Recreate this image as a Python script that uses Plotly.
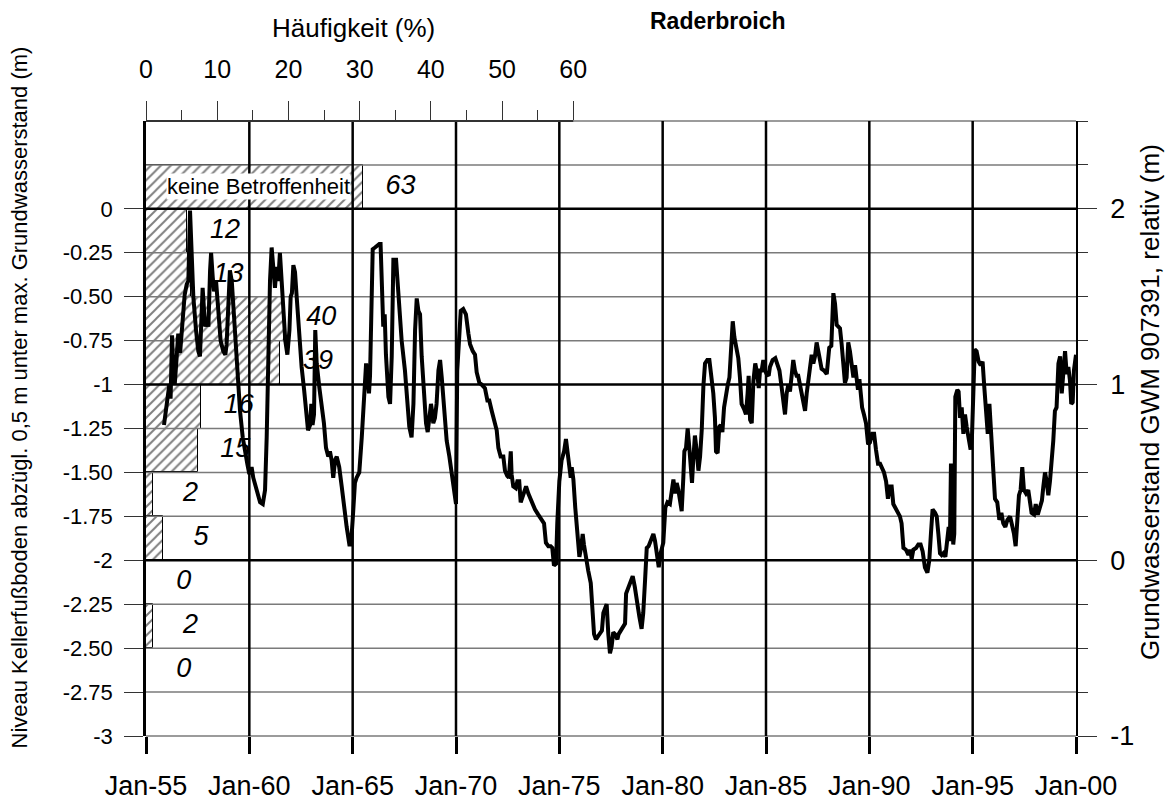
import plotly.graph_objects as go

# ---------------- data ----------------
# Frequency histogram: classes of cellar-floor level (upper edge of each 0.25 m class)
class_upper = [0.25, 0.0, -0.25, -0.5, -0.75, -1.0, -1.25, -1.5, -1.75, -2.0, -2.25, -2.5]
class_counts = [63, 12, 13, 40, 39, 16, 15, 2, 5, 0, 2, 0]
class_height = 0.25
top_class_label = "keine Betroffenheit"

# Groundwater level time series (decimal year, level in m on the left scale)
years = [
    1955.87, 1956.00, 1956.13, 1956.19, 1956.26, 1956.32, 1956.39, 1956.48, 1956.56, 1956.65,
    1956.73, 1956.81, 1956.87, 1956.97, 1957.05, 1957.13, 1957.21, 1957.29, 1957.42, 1957.53,
    1957.61, 1957.69, 1957.74, 1957.81, 1957.87, 1957.94, 1958.02, 1958.10, 1958.15, 1958.23,
    1958.29, 1958.39, 1958.50, 1958.61, 1958.74, 1958.84, 1958.90, 1958.98, 1959.06, 1959.15,
    1959.23, 1959.31, 1959.39, 1959.47, 1959.55, 1959.68, 1959.79, 1959.90, 1960.00, 1960.11,
    1960.19, 1960.35, 1960.52, 1960.65, 1960.76, 1960.84, 1960.92, 1961.00, 1961.08, 1961.16,
    1961.24, 1961.32, 1961.40, 1961.48, 1961.56, 1961.65, 1961.74, 1961.84, 1961.94, 1962.00,
    1962.06, 1962.13, 1962.21, 1962.29, 1962.42, 1962.53, 1962.65, 1962.74, 1962.84, 1962.94,
    1963.00, 1963.06, 1963.13, 1963.19, 1963.26, 1963.39, 1963.50, 1963.61, 1963.71, 1963.82,
    1963.90, 1963.98, 1964.06, 1964.15, 1964.23, 1964.35, 1964.47, 1964.58, 1964.71, 1964.84,
    1964.92, 1965.00, 1965.11, 1965.19, 1965.32, 1965.44, 1965.55, 1965.65, 1965.71, 1965.79,
    1965.84, 1965.92, 1965.97,
    1966.08, 1966.16, 1966.29, 1966.35, 1966.42, 1966.48, 1966.55, 1966.61, 1966.73, 1966.81,
    1966.89, 1966.97, 1967.10, 1967.21, 1967.37, 1967.53, 1967.65, 1967.74, 1967.85, 1967.94,
    1968.02, 1968.10, 1968.18, 1968.26, 1968.34, 1968.45, 1968.55, 1968.63, 1968.71, 1968.79,
    1968.84, 1968.90, 1968.98, 1969.06, 1969.15, 1969.23, 1969.31, 1969.42, 1969.55, 1969.68,
    1969.79, 1969.90, 1970.00, 1970.06, 1970.16, 1970.23, 1970.35, 1970.48, 1970.60, 1970.68,
    1970.81, 1970.92, 1971.00, 1971.13, 1971.24, 1971.40, 1971.52, 1971.61, 1971.73, 1971.84,
    1971.97,
    1972.05, 1972.16, 1972.29, 1972.37, 1972.48, 1972.56, 1972.65, 1972.69, 1972.77, 1972.89,
    1972.97, 1973.06, 1973.13, 1973.26, 1973.39, 1973.50, 1973.66, 1973.82, 1973.98, 1974.15,
    1974.26, 1974.35, 1974.47, 1974.58, 1974.66, 1974.74, 1974.84, 1974.90, 1975.00, 1975.11,
    1975.23, 1975.32, 1975.39, 1975.48, 1975.55, 1975.60, 1975.68, 1975.77, 1975.87, 1975.97,
    1976.05, 1976.13, 1976.19, 1976.29, 1976.40, 1976.52, 1976.61, 1976.68, 1976.77, 1976.89,
    1976.97, 1977.06, 1977.13, 1977.21, 1977.29, 1977.37, 1977.45, 1977.53, 1977.61, 1977.69,
    1977.81, 1977.87, 1977.97, 1978.06, 1978.18, 1978.23, 1978.34, 1978.47, 1978.55, 1978.65,
    1978.74, 1978.87, 1978.98, 1979.06, 1979.15, 1979.23, 1979.32, 1979.42, 1979.55, 1979.63,
    1979.71, 1979.81, 1979.90, 1980.03, 1980.13, 1980.23,
    1980.35, 1980.44, 1980.52, 1980.60, 1980.68, 1980.76, 1980.84, 1980.92, 1981.00, 1981.05,
    1981.13, 1981.21, 1981.29, 1981.35, 1981.42, 1981.48, 1981.56, 1981.65, 1981.73, 1981.81,
    1981.89, 1981.97, 1982.05, 1982.16, 1982.26, 1982.34, 1982.45, 1982.53, 1982.58, 1982.66,
    1982.74, 1982.81, 1982.89, 1982.97, 1983.06, 1983.15, 1983.23, 1983.29, 1983.39, 1983.47,
    1983.58, 1983.66, 1983.74, 1983.82, 1983.94, 1984.03, 1984.11, 1984.16, 1984.23, 1984.31,
    1984.39, 1984.48, 1984.58, 1984.65, 1984.71, 1984.79, 1984.87, 1984.95, 1985.03, 1985.13,
    1985.19, 1985.32, 1985.45, 1985.55, 1985.65, 1985.76, 1985.84, 1985.92, 1986.00, 1986.08,
    1986.16, 1986.24, 1986.32, 1986.40, 1986.48, 1986.56, 1986.65, 1986.77, 1986.89, 1986.97,
    1987.05, 1987.13, 1987.21, 1987.29, 1987.37, 1987.45, 1987.53, 1987.61, 1987.69, 1987.81,
    1987.94, 1988.02, 1988.06, 1988.16, 1988.26, 1988.34, 1988.42, 1988.50, 1988.58, 1988.66,
    1988.74, 1988.82, 1988.90, 1988.98, 1989.06, 1989.15, 1989.23, 1989.31, 1989.39, 1989.45,
    1989.52, 1989.58, 1989.65, 1989.74, 1989.84, 1989.94, 1990.03, 1990.13, 1990.23, 1990.32,
    1990.42, 1990.52, 1990.61, 1990.71, 1990.81, 1990.90, 1991.00, 1991.08, 1991.16, 1991.29,
    1991.40, 1991.48,
    1991.56, 1991.65, 1991.77, 1991.89, 1991.97, 1992.05, 1992.13, 1992.26, 1992.37, 1992.48,
    1992.58, 1992.69, 1992.81, 1992.90, 1992.98, 1993.06, 1993.18, 1993.26, 1993.34, 1993.42,
    1993.50, 1993.58, 1993.68, 1993.77, 1993.84, 1993.90, 1993.95, 1994.00, 1994.06, 1994.11,
    1994.16, 1994.26, 1994.32, 1994.39, 1994.47, 1994.55, 1994.63, 1994.71, 1994.81, 1994.90,
    1994.97, 1995.03, 1995.10, 1995.19, 1995.29, 1995.39, 1995.48, 1995.56, 1995.65, 1995.73,
    1995.81, 1995.87, 1995.94, 1996.00, 1996.08, 1996.19, 1996.29, 1996.39, 1996.48, 1996.58,
    1996.68, 1996.81, 1996.90, 1997.00, 1997.08, 1997.16, 1997.24, 1997.32, 1997.40, 1997.48,
    1997.58, 1997.69, 1997.77, 1997.85, 1997.97, 1998.05, 1998.15, 1998.26, 1998.35, 1998.42,
    1998.50, 1998.58, 1998.66, 1998.74, 1998.82, 1998.90, 1998.98, 1999.06, 1999.15, 1999.23,
    1999.31, 1999.39, 1999.47, 1999.55, 1999.63, 1999.71, 1999.77, 1999.84, 1999.90, 2000.00,
]
levels = [
    -1.23, -1.11, -1.00, -1.08, -0.72, -0.92, -1.00, -0.85, -0.71, -0.82,
    -0.69, -0.54, -0.49, -0.43, -0.41, -0.01, -0.26, -0.50, -0.69, -0.81,
    -0.84, -0.64, -0.45, -0.58, -0.67, -0.62, -0.67, -0.35, -0.25, -0.39,
    -0.47, -0.41, -0.60, -0.75, -0.81, -0.83, -0.77, -0.50, -0.35, -0.41,
    -0.56, -0.73, -0.88, -1.03, -1.15, -1.30, -1.39, -1.45, -1.51, -1.47,
    -1.53, -1.60, -1.67, -1.68, -1.60, -1.30, -0.83, -0.41, -0.22, -0.31,
    -0.45, -0.33, -0.41, -0.25, -0.39, -0.58, -0.75, -0.83, -0.69, -0.50,
    -0.48, -0.32, -0.36, -0.50, -0.73, -0.90, -1.03, -1.15, -1.26, -1.23,
    -1.11, -1.23, -1.17, -0.69, -0.88, -1.02, -1.11, -1.22, -1.36, -1.41,
    -1.38, -1.43, -1.53, -1.43, -1.41, -1.47, -1.58, -1.70, -1.81, -1.91,
    -1.91, -1.77, -1.56, -1.53, -1.50, -1.30, -1.02, -0.88, -0.94, -1.05,
    -0.95, -0.54, -0.23,
    -0.22, -0.21, -0.20, -0.20, -0.58, -0.67, -0.60, -0.83, -1.07, -1.11,
    -0.84, -0.29, -0.29, -0.50, -0.75, -0.92, -1.11, -1.24, -1.30, -1.11,
    -0.69, -0.51, -0.58, -0.60, -0.84, -1.07, -1.22, -1.27, -1.19, -1.11,
    -1.15, -1.22, -1.19, -1.11, -0.92, -0.86, -0.96, -1.15, -1.32, -1.41,
    -1.50, -1.60, -1.68, -0.92, -0.64, -0.58, -0.57, -0.60, -0.71, -0.77,
    -0.81, -0.83, -0.93, -0.99, -1.00, -1.02, -1.09, -1.09, -1.15, -1.20,
    -1.26,
    -1.36, -1.41, -1.41, -1.49, -1.52, -1.53, -1.38, -1.51, -1.58, -1.59,
    -1.55, -1.55, -1.67, -1.62, -1.58, -1.62, -1.67, -1.71, -1.74, -1.77,
    -1.79, -1.90, -1.92, -1.92, -1.93, -2.03, -2.02, -1.79, -1.55, -1.43,
    -1.38, -1.31, -1.38, -1.49, -1.53, -1.47, -1.54, -1.70, -1.83, -1.98,
    -1.93, -1.85, -1.91, -2.00, -2.06, -2.13, -2.30, -2.42, -2.45, -2.43,
    -2.41, -2.40, -2.30, -2.27, -2.25, -2.42, -2.53, -2.49, -2.41, -2.42,
    -2.45, -2.42, -2.40, -2.38, -2.36, -2.19, -2.15, -2.12, -2.09, -2.15,
    -2.23, -2.32, -2.39, -2.30, -2.11, -1.93, -1.92, -1.89, -1.85, -1.89,
    -1.96, -2.04, -1.96, -1.90, -1.70, -1.67,
    -1.68, -1.62, -1.54, -1.62, -1.56, -1.60, -1.66, -1.72, -1.53, -1.38,
    -1.36, -1.25, -1.36, -1.49, -1.56, -1.43, -1.29, -1.38, -1.49, -1.41,
    -1.26, -1.01, -0.88, -0.86, -0.86, -0.94, -1.05, -1.19, -1.38, -1.39,
    -1.24, -1.23, -1.27, -1.13, -1.05, -1.00, -0.96, -0.85, -0.64, -0.73,
    -0.79, -0.85, -0.96, -1.11, -1.14, -1.17, -1.05, -0.95, -1.20, -1.22,
    -0.98, -0.88, -0.94, -1.02, -0.92, -0.92, -0.86, -0.92, -0.94, -0.95,
    -0.90, -0.86, -0.85, -0.88, -0.92, -1.02, -1.11, -1.17, -1.05, -1.00,
    -1.04, -0.95, -0.86, -0.92, -0.95, -0.95, -1.00, -1.09, -1.15, -1.05,
    -0.96, -0.92, -0.83, -0.88, -0.84, -0.76, -0.83, -0.86, -0.91, -0.92,
    -0.94, -0.86, -0.79, -0.78, -0.48, -0.54, -0.66, -0.67, -0.68, -0.77,
    -0.88, -0.99, -0.96, -0.76, -0.81, -0.92, -0.96, -0.89, -0.96, -1.03,
    -0.97, -1.05, -1.13, -1.17, -1.22, -1.34, -1.33, -1.28, -1.28, -1.37,
    -1.45, -1.45, -1.47, -1.50, -1.55, -1.65, -1.58, -1.58, -1.68, -1.71,
    -1.73, -1.75,
    -1.79, -1.93, -1.94, -1.97, -1.94, -1.99, -1.94, -1.93, -1.91, -1.91,
    -1.95, -2.04, -2.07, -2.00, -1.85, -1.71, -1.73, -1.75, -1.85, -1.96,
    -1.97, -1.96, -1.98, -1.85, -1.81, -1.89, -1.45, -1.66, -1.91, -1.85,
    -1.07, -1.03, -1.04, -1.19, -1.13, -1.28, -1.17, -1.24, -1.32, -1.37,
    -1.28, -1.00, -0.80, -0.81, -0.87, -0.89, -0.87, -1.01, -1.17, -1.28,
    -1.11, -1.24, -1.41, -1.55, -1.65, -1.67, -1.77, -1.73, -1.79, -1.81,
    -1.77, -1.75, -1.79, -1.85, -1.92, -1.75, -1.63, -1.60, -1.47, -1.60,
    -1.62, -1.60, -1.68, -1.73, -1.74, -1.68, -1.74, -1.69, -1.66, -1.58,
    -1.50, -1.55, -1.63, -1.55, -1.45, -1.32, -1.15, -1.13, -0.88, -0.84,
    -1.05, -0.92, -0.81, -0.94, -0.90, -0.98, -1.11, -1.10, -0.92, -0.83,
]

# Axis tick definitions
left_tickvals = [0, -0.25, -0.5, -0.75, -1, -1.25, -1.5, -1.75, -2, -2.25, -2.5, -2.75, -3]
left_ticktext = ["0", "-0.25", "-0.50", "-0.75", "-1", "-1.25", "-1.50", "-1.75",
                 "-2", "-2.25", "-2.50", "-2.75", "-3"]
grid_levels = [0.25, 0, -0.25, -0.5, -0.75, -1, -1.25, -1.5, -1.75, -2, -2.25, -2.5, -2.75]
major_levels = [0, -1, -2]
right_tickvals = [-1, 0, 1, 2]
right_ticktext = ["-1", "0", "1", "2"]
right_minor = [-0.75, -0.5, -0.25, 0.25, 0.5, 0.75, 1.25, 1.5, 1.75, 2.25, 2.5]
pct_tickvals = [0, 10, 20, 30, 40, 50, 60]
pct_minor = [5, 15, 25, 35, 45, 55]
year_tickvals = [1955, 1960, 1965, 1970, 1975, 1980, 1985, 1990, 1995, 2000]
year_ticktext = ["Jan-55", "Jan-60", "Jan-65", "Jan-70", "Jan-75", "Jan-80",
                 "Jan-85", "Jan-90", "Jan-95", "Jan-00"]

# ---------------- derived ----------------
total = sum(class_counts)
pct = [c / total * 100 for c in class_counts]
centers = [u - class_height / 2 for u in class_upper]
label_offset = 5.3

FONT = "Liberation Sans, Arial, sans-serif"
fig = go.Figure()

hatch = dict(shape="/", fgcolor="black", bgcolor="white", size=7, solidity=0.28)
# Hatched frequency bars (base subplot x / y)
fig.add_trace(go.Bar(
    x=pct, y=centers, orientation="h", width=class_height, base=0,
    marker=dict(color="white", line=dict(color="black", width=1), pattern=hatch),
    xaxis="x", yaxis="y", showlegend=False, hoverinfo="skip",
))
fig.add_trace(go.Scatter(
    x=[p + label_offset for p in pct], y=centers, mode="text",
    text=[f"<i>{c}</i>" for c in class_counts],
    textfont=dict(family=FONT, size=27, color="black"),
    xaxis="x", yaxis="y", showlegend=False, hoverinfo="skip",
))

# Gridlines drawn as traces on the overlaying time axis (above the bars)
def hlines(levels_list):
    xs, ys = [], []
    for lv in levels_list:
        xs += [year_tickvals[0], year_tickvals[-1], None]
        ys += [lv, lv, None]
    return xs, ys

minor_levels = [g for g in grid_levels if g not in major_levels]
gx, gy = hlines(minor_levels)
fig.add_trace(go.Scatter(x=gx, y=gy, mode="lines", line=dict(color="#7a7a7a", width=1.5),
                         xaxis="x2", yaxis="y", showlegend=False, hoverinfo="skip"))
gx, gy = hlines(major_levels)
fig.add_trace(go.Scatter(x=gx, y=gy, mode="lines", line=dict(color="black", width=2.5),
                         xaxis="x2", yaxis="y", showlegend=False, hoverinfo="skip"))
vx, vy = [], []
for yr in year_tickvals[1:-1]:
    vx += [yr, yr, None]
    vy += [left_tickvals[-1], 0.5, None]
fig.add_trace(go.Scatter(x=vx, y=vy, mode="lines", line=dict(color="black", width=2.5),
                         xaxis="x2", yaxis="y", showlegend=False, hoverinfo="skip"))

# Groundwater level line
fig.add_trace(go.Scatter(x=years, y=levels, mode="lines",
                         line=dict(color="black", width=4),
                         xaxis="x2", yaxis="y", showlegend=False))

# helper so the right axis is rendered
fig.add_trace(go.Scatter(x=[year_tickvals[0]], y=[right_tickvals[0]], mode="markers",
                         marker=dict(opacity=0), xaxis="x2", yaxis="y2",
                         showlegend=False, hoverinfo="skip"))

tickc = "#333333"
# page body adds an 8px offset; margins compensate so the plot area lands at 146..1076 / 121..736
fig.update_layout(
    width=1173, height=808,
    margin=dict(l=138, r=105, t=113, b=80),
    paper_bgcolor="white", plot_bgcolor="white",
    font=dict(family=FONT, color="black"),
    bargap=0,
    xaxis=dict(
        domain=[0, 1], range=[0, 130.6], side="top", anchor="y",
        tickmode="array", tickvals=pct_tickvals, ticks="outside", ticklen=19,
        tickwidth=1.2, tickcolor=tickc, showgrid=False, zeroline=False, showline=False,
        minor=dict(tickmode="array", tickvals=pct_minor, ticks="outside", ticklen=10,
                   tickwidth=1.2, tickcolor=tickc, showgrid=False),
        tickfont=dict(size=25), ticklabelstandoff=13,
    ),
    xaxis2=dict(
        overlaying="x", side="bottom", anchor="y", range=[1955, 2000],
        tickmode="array", tickvals=year_tickvals, ticktext=year_ticktext,
        ticks="outside", ticklen=17, tickwidth=2.5, tickcolor="black",
        showgrid=False, zeroline=False, showline=False,
        tickfont=dict(size=27), ticklabelstandoff=9,
    ),
    yaxis=dict(
        range=[-3, 0.5], tickmode="array", tickvals=left_tickvals, ticktext=left_ticktext,
        ticks="outside", ticklen=19, tickwidth=1.2, tickcolor=tickc,
        showgrid=False, zeroline=False, showline=True, linecolor="black", linewidth=2.5,
        tickfont=dict(size=22), ticklabelstandoff=7,
    ),
    yaxis2=dict(
        overlaying="y", side="right", anchor="x", range=[-1, 2.5],
        tickmode="array", tickvals=right_tickvals, ticktext=right_ticktext,
        ticks="outside", ticklen=19, tickwidth=1.2, tickcolor=tickc,
        minor=dict(tickmode="array", tickvals=right_minor, ticks="outside", ticklen=10,
                   tickwidth=1.2, tickcolor=tickc, showgrid=False),
        showgrid=False, zeroline=False, showline=True, linecolor="black", linewidth=1.5,
        tickfont=dict(size=27), ticklabelstandoff=8,
    ),
    shapes=[
        dict(type="line", xref="paper", yref="paper", x0=0, x1=1, y0=1, y1=1,
             line=dict(color="#7a7a7a", width=1.5), layer="below"),
        dict(type="line", xref="paper", yref="paper", x0=0, x1=1, y0=0, y1=0,
             line=dict(color="#7a7a7a", width=1.5), layer="below"),
        dict(type="line", xref="x", yref="paper", x0=0, x1=pct_tickvals[-1], y0=1, y1=1,
             line=dict(color=tickc, width=2)),
    ],
    annotations=[
        dict(text="<b>Raderbroich</b>", xref="paper", yref="paper", x=0.614, y=1.163,
             showarrow=False, font=dict(size=23), xanchor="center", yanchor="middle"),
        dict(text="Häufigkeit (%)", xref="paper", yref="paper", x=0.2231, y=1.151,
             showarrow=False, font=dict(size=26), xanchor="center", yanchor="middle"),
        dict(text="Niveau Kellerfußboden abzügl. 0,5 m unter max. Grundwasserstand (m)",
             xref="paper", yref="paper", x=-0.1355, y=0.5504, textangle=-90,
             showarrow=False, font=dict(size=22), xanchor="center", yanchor="middle"),
        dict(text="Grundwasserstand GWM 907391, relativ (m)",
             xref="paper", yref="paper", x=1.0796, y=0.5431, textangle=-90,
             showarrow=False, font=dict(size=26), xanchor="center", yanchor="middle"),
        dict(text=top_class_label, xref="x", yref="y", x=pct[0] / 2 + 0.6, y=centers[0],
             showarrow=False, font=dict(size=22), bgcolor="white", borderpad=0,
             xanchor="center", yanchor="middle"),
    ],
)

fig.write_html("out.html")
